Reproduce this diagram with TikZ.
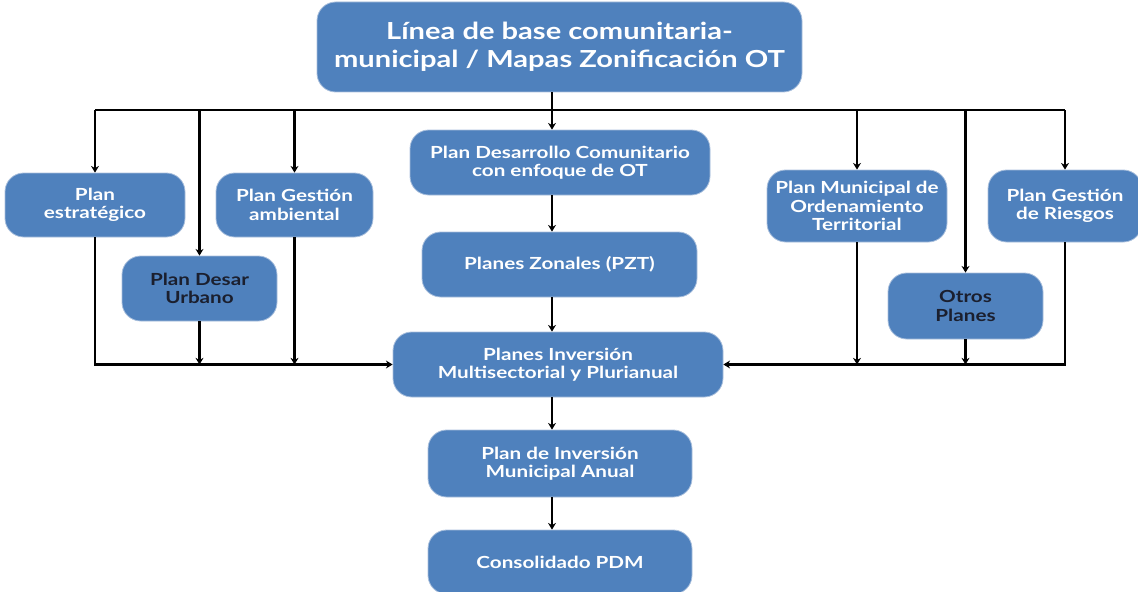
\documentclass[tikz,border=0pt]{standalone}
\usepackage{fontspec}
\setmainfont{Lato}[FakeStretch=1.24]
\usetikzlibrary{arrows.meta}
\definecolor{boxblue}{HTML}{4F81BD}
\definecolor{boxedge}{HTML}{A9BFDC}
\definecolor{darktxt}{HTML}{1B1F2E}
\tikzset{
  pbox/.style={rectangle, rounded corners=14pt, fill=boxblue, draw=boxedge, line width=0.6pt,
    text=white, font=\bfseries\fontsize{12.5}{13.8}\selectfont, align=center, inner sep=2pt},
  darkbox/.style={pbox, text=darktxt},
  conn/.style={line width=1.8pt, black},
  arr/.style={conn, -{Stealth[length=5pt,width=6pt]}},
}
\begin{document}
\begin{tikzpicture}[x=0.75pt,y=-0.75pt]
\useasboundingbox (0,0) rectangle (1138,592);
% nodes
\node[pbox, minimum width=363.75pt, minimum height=67.5pt, font=\bfseries\fontsize{17.6}{21}\selectfont] (top) at (559.5,47) {Línea de base comunitaria-\\municipal / Mapas Zonificación OT};
\node[pbox, minimum width=135pt, minimum height=48pt] (estr) at (95,205) {Plan\\estratégico};
\node[pbox, minimum width=117.75pt, minimum height=48pt] (gest) at (294.5,205) {Plan Gestión\\ambiental};
\node[darkbox, minimum width=116.25pt, minimum height=48.75pt] (du) at (199.5,288.5) {Plan Desar\\Urbano};
\node[pbox, minimum width=225pt, minimum height=48.75pt] (dc) at (560,162.5) {Plan Desarrollo Comunitario\\con enfoque de OT};
\node[pbox, minimum width=206.25pt, minimum height=48.75pt] (pz) at (559.5,264.5) {Planes Zonales (PZT)};
\node[pbox, minimum width=247.5pt, minimum height=48.75pt] (pim) at (558,364.5) {Planes Inversión\\Multisectorial y Plurianual};
\node[pbox, minimum width=198pt, minimum height=50.25pt] (pima) at (560,463.5) {Plan de Inversión\\Municipal Anual};
\node[pbox, minimum width=198pt, minimum height=48pt] (cons) at (560,562) {Consolidado PDM};
\node[pbox, minimum width=135pt, minimum height=54pt] (pmot) at (857,206) {Plan Municipal de\\Ordenamiento\\Territorial};
\node[pbox, minimum width=115.5pt, minimum height=54pt] (ries) at (1065,206) {Plan Gestión\\de Riesgos};
\node[darkbox, minimum width=116.25pt, minimum height=49.5pt] (otros) at (965.5,306) {Otros\\Planes};
% coordinates
\coordinate (spine) at (552,110);
% top bus
\draw[conn] (estr.north |- spine) -- (ries.north |- spine);
\draw[arr] (top.south -| spine) -- (dc.north -| spine);
\draw[arr] (estr.north |- spine) -- (estr.north);
\draw[arr] (du.north |- spine) -- (du.north);
\draw[arr] (gest.north |- spine) -- (gest.north);
\draw[arr] (pmot.north |- spine) -- (pmot.north);
\draw[arr] (otros.north |- spine) -- (otros.north);
\draw[arr] (ries.north |- spine) -- (ries.north);
% center chain
\draw[arr] (dc.south -| spine) -- (pz.north -| spine);
\draw[arr] (pz.south -| spine) -- (pim.north -| spine);
\draw[arr] (pim.south -| spine) -- (pima.north -| spine);
\draw[arr] (pima.south -| spine) -- (cons.north -| spine);
% bottom bus
\draw[arr] (estr.south) |- (pim.west);
\draw[arr] (du.south) -- (du.south |- pim.west);
\draw[arr] (gest.south) -- (gest.south |- pim.west);
\draw[arr] (ries.south) |- (pim.east);
\draw[arr] (pmot.south) -- (pmot.south |- pim.east);
\draw[arr] (otros.south) -- (otros.south |- pim.east);
\end{tikzpicture}
\end{document}
